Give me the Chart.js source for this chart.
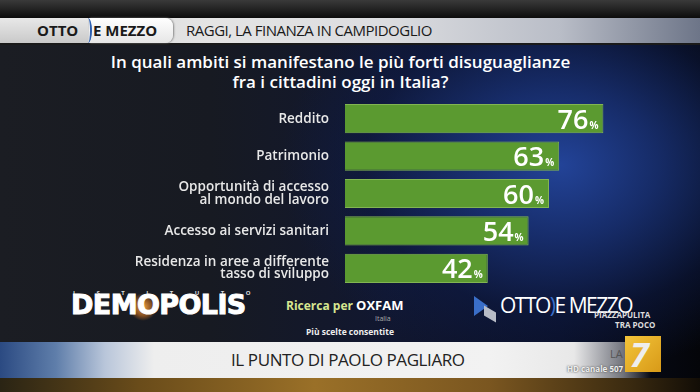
<!DOCTYPE html>
<html>
<head>
<meta charset="utf-8">
<script src="https://cdn.jsdelivr.net/npm/chart.js@4"></script>
<style>
html,body{margin:0;padding:0;width:700px;height:392px;overflow:hidden;background:#06080d;}
#bg{position:absolute;left:0;top:0;width:700px;height:392px;
 background:
  radial-gradient(ellipse 280px 210px at 560px 165px, rgba(36,70,158,0.95) 0%, rgba(26,52,124,0.8) 35%, rgba(14,28,74,0.5) 70%, rgba(8,12,30,0) 100%),
  linear-gradient(90deg, #1b1d23 0%, #171a22 30%, #111730 55%, #0a0f24 80%, #040509 100%);}
#hdrTop{position:absolute;left:0;top:0;width:700px;height:18px;background:linear-gradient(180deg,#3a3a3a,#0c0c0c);}
#hdr{position:absolute;left:0;top:18px;width:700px;height:25px;
 background:linear-gradient(90deg,#d4d4d4 0%,#e4e4e4 30%,#dcdde0 55%,#b9bdc7 80%,#6d7588 100%);
 border-bottom:2px solid #1a1a1a;}
#tab1{position:absolute;left:0;top:18px;width:88px;height:25px;background:linear-gradient(180deg,#e8e8e8,#c9c9c9);}
#sep{position:absolute;left:84px;top:18px;width:6px;height:25px;border-radius:0 50% 50% 0;border-right:2px solid #2d5fb0;}
#tab2{position:absolute;left:89px;top:18px;width:84px;height:25px;background:linear-gradient(180deg,#ffffff,#e6e6e6);border-radius:0 8px 8px 0;box-shadow:1px 0 2px #8a8a8a;}
.ht{position:absolute;top:18px;height:25px;line-height:25px;font-family:"Open Sans",sans-serif;color:#1a1a1a;white-space:nowrap;}
#title{position:absolute;left:0;top:52px;width:681px;text-align:center;color:#ffffff;font-family:"Open Sans",sans-serif;font-weight:600;font-size:17px;line-height:20px;}
#chartWrap{position:absolute;left:0;top:0;width:700px;height:392px;}
#ftr{position:absolute;left:0;top:342px;width:700px;height:36px;
 background:linear-gradient(90deg,#2b4a82 0%,#5f7eaa 8%,#b9c6da 15%,#eeeeee 22%,#f2f2f2 70%,#e8e8e8 82%,rgba(220,220,220,0.5) 89%,rgba(0,0,0,0) 93%);}
#ftrBottom{position:absolute;left:0;top:378px;width:700px;height:14px;
 background:linear-gradient(90deg,#2a2414 0%,#6a4c1a 20%,#9a7028 45%,#7a5620 70%,#3a2a10 90%,#120d06 100%);}
#ftrText{position:absolute;left:231px;top:342px;height:36px;line-height:36px;font-family:"Open Sans",sans-serif;font-size:17px;color:#222;letter-spacing:-0.4px;white-space:nowrap;}
.t{position:absolute;font-family:"Open Sans",sans-serif;white-space:nowrap;}
</style>
</head>
<body>
<div id="bg"></div>
<div id="hdrTop"></div>
<div id="hdr"></div>
<div id="tab1"></div>
<div id="tab2"></div>
<div id="sep"></div>
<div class="ht" style="left:37px;font-weight:700;font-size:15px;">OTTO</div>
<div class="ht" style="left:93px;font-weight:700;font-size:15px;">E MEZZO</div>
<div class="ht" style="left:186px;font-size:15px;letter-spacing:-0.5px;">RAGGI, LA FINANZA IN CAMPIDOGLIO</div>
<div id="title">In quali ambiti si manifestano le più forti disuguaglianze<br>fra i cittadini oggi in Italia?</div>

<div class="t" style="left:73px;top:289px;width:180px;font-size:6px;color:#ddd;letter-spacing:21.5px;font-weight:700;">ISTITUTO</div>
<div class="t" style="left:129px;top:293px;width:28px;height:28px;border-radius:50%;background:radial-gradient(circle,#f0a040 0%,rgba(200,110,30,0.6) 45%,rgba(0,0,0,0) 70%);"></div>
<div class="t" style="left:71px;top:289px;font-family:'DejaVu Sans',sans-serif;font-weight:900;font-size:27px;color:#ffffff;letter-spacing:-0.6px;-webkit-text-stroke:1px #ffffff;">DEMOPOLIS</div>
<div class="t" style="left:286px;top:296px;font-size:12px;font-weight:700;color:#d6e690;">Ricerca per <span style="color:#fff;font-size:13px;">OXFAM</span></div>
<div class="t" style="left:375px;top:314px;font-size:7px;color:#aaa;">Italia</div>
<div class="t" style="left:306px;top:326px;font-size:8.5px;font-weight:700;color:#eee;">Più scelte consentite</div>
<div class="t" style="left:474px;top:296px;width:0;height:0;border-left:14px solid #3a6ec8;border-top:10px solid transparent;border-bottom:10px solid transparent;"></div>
<div class="t" style="left:484px;top:309px;width:12px;height:10px;background:#b8bcc6;transform:skewY(30deg);"></div>
<div class="t" style="left:500px;top:291px;font-size:21px;color:#fff;letter-spacing:-1.5px;">OTTO<span style="color:#3a6ec8;">)</span>E MEZZO</div>
<div class="t" style="left:594px;top:309px;font-size:8px;font-weight:700;color:#ddd;">PIAZZAPULITA</div>
<div class="t" style="left:615px;top:319px;font-size:8px;font-weight:700;color:#ddd;">TRA POCO</div>

<div id="ftr"></div>
<div id="ftrBottom"></div>
<div id="ftrText">IL PUNTO DI PAOLO PAGLIARO</div>
<div class="t" style="left:610px;top:346px;font-size:11px;color:#555;">LA</div>
<div class="t" style="left:625px;top:336px;width:36px;height:36px;background:linear-gradient(135deg,#f3c43a,#d89a18);"></div>
<div class="t" style="left:630px;top:337px;font-size:34px;line-height:34px;font-weight:700;color:#eee;font-style:italic;">7</div>
<div class="t" style="left:567px;top:363px;font-size:8px;font-weight:700;color:#eee;text-shadow:0 0 2px #333;">HD canale 507</div>

<div id="chartWrap"><canvas id="c" width="700" height="392"></canvas></div>
<script>
const categories = ["Reddito", "Patrimonio", ["Opportunità di accesso","al mondo del lavoro"], "Accesso ai servizi sanitari", ["Residenza in aree a differente","tasso di sviluppo"]];
const values = [76, 63, 60, 54, 42];

const valueLabels = {
  id: 'valueLabels',
  afterDatasetsDraw(chart) {
    const ctx = chart.ctx;
    const meta = chart.getDatasetMeta(0);
    ctx.save();
    ctx.fillStyle = '#ffffff';
    ctx.textBaseline = 'alphabetic';
    ctx.textAlign = 'right';
    meta.data.forEach((bar, i) => {
      const xr = bar.x - 5;
      const yb = bar.y + 10;
      ctx.font = '700 10px "Open Sans", sans-serif';
      const pw = ctx.measureText('%').width;
      ctx.fillText('%', xr, yb);
      ctx.font = '600 27px "Open Sans", sans-serif';
      ctx.fillText(String(values[i]), xr - pw - 1, yb);
    });
    ctx.restore();
  }
};

new Chart(document.getElementById('c'), {
  type: 'bar',
  data: {
    labels: categories,
    datasets: [{
      data: values,
      backgroundColor: '#5b9a30',
      borderColor: '#82b552',
      borderWidth: 1,
      barPercentage: 0.78,
      categoryPercentage: 1.0
    }]
  },
  options: {
    indexAxis: 'y',
    responsive: false,
    devicePixelRatio: 1,
    animation: false,
    layout: { padding: { top: 100, bottom: 105, left: 0, right: 15 } },
    plugins: { legend: { display: false }, tooltip: { enabled: false }, title: { display: false } },
    scales: {
      x: { min: 0, max: 100, display: false },
      y: {
        grid: { display: false },
        border: { display: false },
        ticks: {
          color: '#e8e8e8',
          padding: 8,
          font: { family: '"Open Sans", sans-serif', size: 13.5, weight: '600', lineHeight: 0.93 }
        },
        afterFit(scale) { scale.width = 345; }
      }
    }
  },
  plugins: [valueLabels]
});
</script>
</body>
</html>
